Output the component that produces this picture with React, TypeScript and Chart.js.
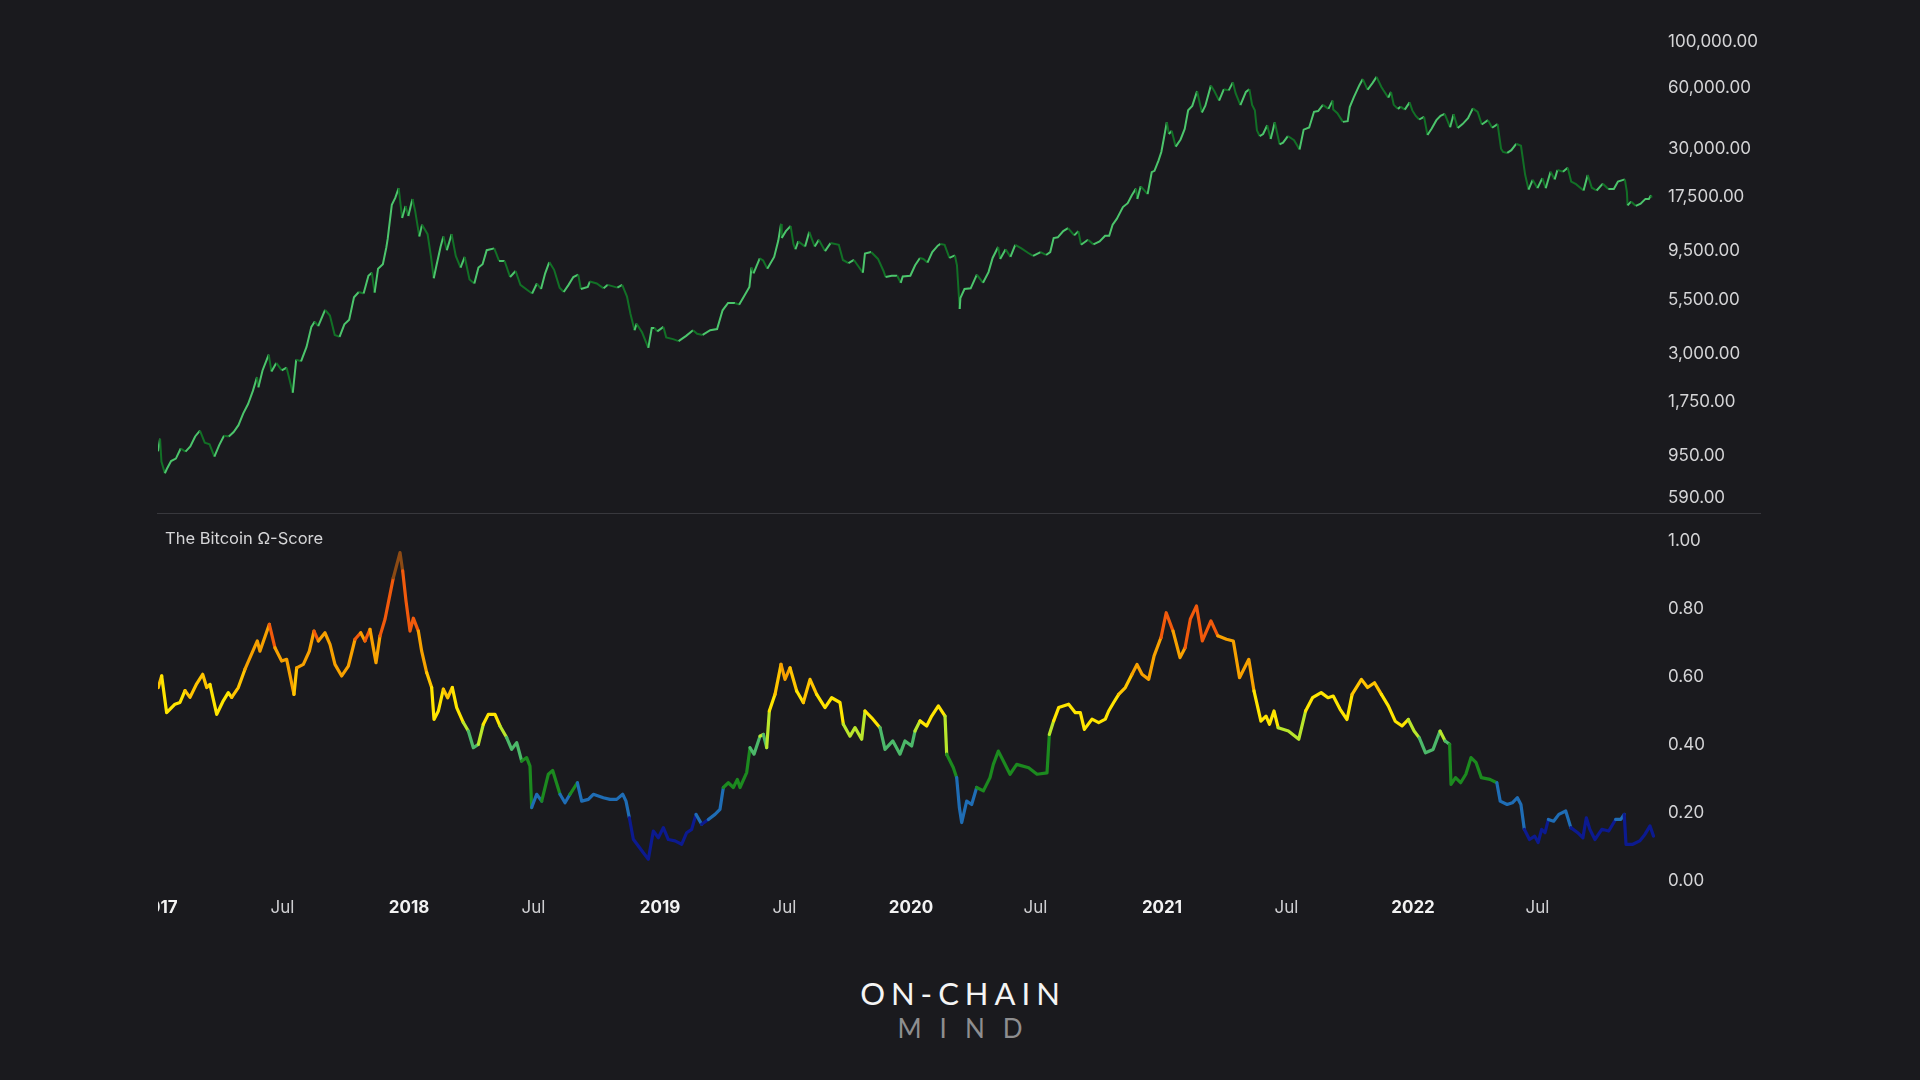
import React, { useEffect, useRef } from 'react';
import { Chart, registerables } from 'chart.js';

Chart.register(...registerables);

// ---------- DATA ----------
// BTC price (approximate closes), [MM-DD, USD]
const price2017: [string, number][] = [
  ['01-01', 998], ['01-04', 1150], ['01-06', 890], ['01-11', 780], ['01-14', 820], ['01-20', 895], ['01-27', 920],
  ['02-03', 1030], ['02-10', 995], ['02-17', 1055], ['02-24', 1180], ['03-03', 1260], ['03-10', 1100], ['03-17', 1080],
  ['03-24', 940], ['03-31', 1070], ['04-07', 1190], ['04-14', 1180], ['04-21', 1240], ['04-28', 1340], ['05-05', 1530],
  ['05-12', 1700], ['05-19', 1970], ['05-25', 2300], ['05-27', 2050], ['06-02', 2480], ['06-11', 2960], ['06-15', 2450],
  ['06-22', 2700], ['06-30', 2480], ['07-07', 2560], ['07-16', 1930], ['07-21', 2800], ['07-28', 2750], ['08-05', 3230],
  ['08-12', 4050], ['08-17', 4300], ['08-22', 4080], ['09-01', 4900], ['09-08', 4600], ['09-15', 3700], ['09-22', 3620],
  ['09-29', 4170], ['10-06', 4390], ['10-13', 5650], ['10-20', 6000], ['10-27', 5900], ['11-03', 7200], ['11-08', 7450],
  ['11-12', 5950], ['11-17', 7800], ['11-24', 8200], ['11-29', 9900], ['12-01', 10900], ['12-07', 16000], ['12-12', 17300],
  ['12-17', 19300], ['12-22', 13800], ['12-27', 15800], ['12-31', 14100],
];
const price2018: [string, number][] = [
  ['01-06', 17100], ['01-10', 14900], ['01-16', 11200], ['01-20', 12800], ['01-28', 11500], ['02-02', 8900], ['02-06', 7000],
  ['02-10', 8100], ['02-16', 10000], ['02-20', 11200], ['02-25', 9600], ['03-04', 11500], ['03-10', 9000], ['03-17', 7900],
  ['03-23', 8900], ['03-30', 6900], ['04-06', 6600], ['04-12', 7900], ['04-18', 8200], ['04-24', 9600], ['05-05', 9800],
  ['05-12', 8500], ['05-20', 8500], ['05-28', 7100], ['06-05', 7600], ['06-12', 6500], ['06-23', 6100], ['06-29', 5900],
  ['07-06', 6600], ['07-12', 6200], ['07-18', 7400], ['07-24', 8400], ['07-31', 7700], ['08-08', 6300], ['08-14', 6000],
  ['08-21', 6500], ['08-28', 7100], ['09-04', 7300], ['09-08', 6200], ['09-18', 6350], ['09-21', 6750], ['10-01', 6600],
  ['10-11', 6250], ['10-17', 6500], ['10-31', 6300], ['11-07', 6500], ['11-14', 5700], ['11-19', 4700], ['11-25', 3900],
  ['11-28', 4200], ['12-06', 3800], ['12-15', 3200], ['12-20', 4000], ['12-24', 4000], ['12-28', 3850],
];
const price2019: [string, number][] = [
  ['01-06', 4050], ['01-10', 3600], ['01-20', 3530], ['01-28', 3450], ['02-08', 3660], ['02-18', 3900], ['02-24', 3750],
  ['03-04', 3700], ['03-15', 3900], ['03-25', 3950], ['04-02', 4880], ['04-10', 5300], ['04-20', 5300], ['04-26', 5200],
  ['05-03', 5700], ['05-11', 6350], ['05-14', 7900], ['05-17', 7400], ['05-26', 8750], ['05-31', 8550], ['06-06', 7800],
  ['06-16', 8900], ['06-22', 10700], ['06-26', 12900], ['06-27', 11000], ['07-03', 11900], ['07-10', 12600], ['07-14', 10300],
  ['07-17', 9700], ['07-21', 10600], ['07-31', 10000], ['08-06', 11800], ['08-14', 10000], ['08-20', 10800], ['08-29', 9500],
  ['09-06', 10400], ['09-18', 10200], ['09-24', 8600], ['10-02', 8300], ['10-10', 8600], ['10-23', 7450], ['10-26', 9250],
  ['11-04', 9400], ['11-14', 8700], ['11-22', 7600], ['11-25', 7100], ['12-04', 7200], ['12-12', 7200], ['12-17', 6650],
  ['12-20', 7150], ['12-31', 7200],
];
const price2020: [string, number][] = [
  ['01-07', 8100], ['01-14', 8800], ['01-19', 8700], ['01-25', 8350], ['02-01', 9400], ['02-09', 10100], ['02-13', 10300],
  ['02-19', 10200], ['02-26', 8800], ['03-05', 9050], ['03-08', 8100], ['03-12', 4950], ['03-13', 5600], ['03-19', 6200],
  ['03-28', 6250], ['04-06', 7300], ['04-15', 6650], ['04-23', 7500], ['04-29', 8800], ['05-07', 9950], ['05-10', 8700],
  ['05-18', 9700], ['05-25', 8900], ['06-01', 10200], ['06-10', 9800], ['06-20', 9300], ['06-27', 9000], ['07-08', 9400],
  ['07-16', 9100], ['07-22', 9400], ['07-27', 11000], ['08-02', 11100], ['08-10', 11900], ['08-17', 12300], ['08-26', 11350],
  ['09-01', 11900], ['09-05', 10200], ['09-15', 10800], ['09-23', 10250], ['10-02', 10600], ['10-10', 11300], ['10-16', 11300],
  ['10-21', 12800], ['10-27', 13650], ['11-05', 15600], ['11-12', 16300], ['11-18', 17800], ['11-24', 19200], ['11-26', 17100],
  ['12-01', 19700], ['12-11', 18050], ['12-17', 23100], ['12-21', 23450], ['12-27', 26400], ['12-31', 29000],
];
const price2021: [string, number][] = [
  ['01-03', 32800], ['01-08', 40600], ['01-11', 35500], ['01-15', 36800], ['01-21', 30800], ['01-28', 33400], ['02-03', 37600],
  ['02-08', 46400], ['02-14', 48700], ['02-21', 57500], ['02-28', 45200], ['03-05', 48800], ['03-13', 61200], ['03-18', 57600],
  ['03-25', 51700], ['04-01', 58800], ['04-08', 58000], ['04-14', 63500], ['04-18', 56200], ['04-25', 49100], ['05-03', 57000],
  ['05-08', 58800], ['05-12', 49200], ['05-16', 46400], ['05-19', 37000], ['05-23', 34700], ['05-28', 35500], ['06-03', 39200],
  ['06-08', 33600], ['06-14', 40500], ['06-21', 31600], ['06-26', 32200], ['07-03', 34700], ['07-12', 33100], ['07-20', 29800],
  ['07-26', 37300], ['08-03', 38200], ['08-10', 45600], ['08-16', 46000], ['08-23', 49300], ['08-31', 47100], ['09-06', 51700],
  ['09-07', 46800], ['09-13', 44900], ['09-21', 40700], ['09-28', 41000], ['10-01', 48100], ['10-07', 53800], ['10-15', 61500],
  ['10-20', 65900], ['10-27', 58400], ['11-03', 63000], ['11-09', 67500], ['11-16', 60300], ['11-19', 58100], ['11-26', 53500],
  ['11-30', 57000], ['12-04', 49300], ['12-10', 47100], ['12-14', 48300], ['12-20', 46700], ['12-27', 50700], ['12-31', 46300],
];
const price2022: [string, number][] = [
  ['01-05', 43500], ['01-10', 41800], ['01-17', 43100], ['01-22', 35100], ['01-28', 37700], ['02-04', 41500], ['02-10', 43600],
  ['02-16', 44500], ['02-24', 38300], ['03-01', 44400], ['03-07', 38000], ['03-14', 39700], ['03-22', 42400], ['03-29', 47400],
  ['04-05', 45500], ['04-11', 39500], ['04-20', 41500], ['04-26', 38100], ['05-04', 39700], ['05-09', 30100], ['05-12', 29000],
  ['05-18', 28700], ['05-24', 29600], ['05-31', 31800], ['06-07', 31100], ['06-13', 22500], ['06-18', 19000], ['06-24', 21200],
  ['07-01', 19300], ['07-08', 21600], ['07-13', 19300], ['07-20', 23200], ['07-26', 21300], ['07-30', 23700], ['08-07', 23200],
  ['08-14', 24300], ['08-19', 20800], ['08-26', 20200], ['09-06', 18800], ['09-12', 22400], ['09-18', 19400], ['09-25', 18800],
  ['10-04', 20300], ['10-12', 19100], ['10-20', 19100], ['10-26', 20800], ['11-05', 21300], ['11-08', 18500], ['11-09', 15900],
  ['11-14', 16600], ['11-21', 15800], ['11-28', 16200], ['12-05', 17100], ['12-10', 17100], ['12-13', 17800], ['12-14', 17350],
];

// Bitcoin Ω-Score, [decimal year, score]
const score2017: [number, number][] = [
  [2017.001, 0.569], [2017.0146, 0.603], [2017.0345, 0.495], [2017.0677, 0.52], [2017.0876, 0.525], [2017.1076, 0.56],
  [2017.1275, 0.54], [2017.154, 0.58], [2017.178, 0.608], [2017.194, 0.569], [2017.207, 0.578], [2017.234, 0.49],
  [2017.26, 0.53], [2017.28, 0.554], [2017.2935, 0.54], [2017.32, 0.569], [2017.3466, 0.623], [2017.3665, 0.657],
  [2017.3957, 0.706], [2017.406, 0.676], [2017.4436, 0.755], [2017.466, 0.686], [2017.4927, 0.647], [2017.5126, 0.652],
  [2017.5418, 0.549], [2017.5525, 0.627], [2017.579, 0.637], [2017.603, 0.676], [2017.6215, 0.735], [2017.6388, 0.706],
  [2017.6653, 0.73], [2017.6853, 0.696], [2017.705, 0.637], [2017.7318, 0.603], [2017.7583, 0.632], [2017.785, 0.711],
  [2017.8074, 0.73], [2017.8247, 0.706], [2017.8446, 0.74], [2017.8685, 0.642], [2017.8845, 0.721], [2017.9044, 0.77],
  [2017.9243, 0.843], [2017.9376, 0.892], [2017.9641, 0.966], [2017.9748, 0.912], [2017.988, 0.824],
];
const score2018: [number, number][] = [
  [2018.004, 0.735], [2018.0172, 0.773], [2018.0372, 0.735], [2018.0505, 0.676], [2018.0704, 0.613], [2018.0903, 0.569],
  [2018.0996, 0.475], [2018.1169, 0.5], [2018.1368, 0.564], [2018.154, 0.539], [2018.1726, 0.569], [2018.19, 0.51],
  [2018.2165, 0.466], [2018.2364, 0.441], [2018.2563, 0.392], [2018.2762, 0.402], [2018.2961, 0.461], [2018.316, 0.49],
  [2018.3426, 0.49], [2018.3625, 0.456], [2018.389, 0.422], [2018.409, 0.387], [2018.429, 0.407], [2018.4489, 0.353],
  [2018.4688, 0.363], [2018.482, 0.338], [2018.4887, 0.216], [2018.5086, 0.255], [2018.5286, 0.235], [2018.5551, 0.314],
  [2018.5724, 0.325], [2018.6016, 0.255], [2018.6215, 0.23], [2018.6414, 0.255], [2018.6707, 0.289], [2018.6879, 0.235],
  [2018.7145, 0.24], [2018.7344, 0.255], [2018.7742, 0.245], [2018.8008, 0.24], [2018.8274, 0.24], [2018.8513, 0.255],
  [2018.8645, 0.235], [2018.8778, 0.186], [2018.8937, 0.123], [2018.9137, 0.103], [2018.9336, 0.083], [2018.9535, 0.064],
  [2018.9734, 0.147], [2018.9933, 0.127],
];
const score2019: [number, number][] = [
  [2019.0133, 0.157], [2019.0332, 0.122], [2019.0598, 0.118], [2019.0863, 0.108], [2019.1063, 0.142], [2019.1262, 0.152],
  [2019.1434, 0.196], [2019.166, 0.167], [2019.1926, 0.181], [2019.2191, 0.196], [2019.239, 0.211], [2019.2523, 0.275],
  [2019.2722, 0.289], [2019.2922, 0.275], [2019.3081, 0.299], [2019.3187, 0.275], [2019.3453, 0.319], [2019.3586, 0.392],
  [2019.3745, 0.373], [2019.3984, 0.426], [2019.4117, 0.431], [2019.425, 0.392], [2019.4356, 0.5], [2019.4582, 0.549],
  [2019.4821, 0.637], [2019.498, 0.593], [2019.5179, 0.627], [2019.5445, 0.559], [2019.571, 0.525], [2019.5976, 0.593],
  [2019.6242, 0.549], [2019.6574, 0.51], [2019.6839, 0.539], [2019.7171, 0.525], [2019.7304, 0.461], [2019.757, 0.426],
  [2019.7769, 0.451], [2019.8035, 0.417], [2019.8167, 0.5], [2019.8433, 0.48], [2019.8765, 0.451], [2019.8964, 0.387],
  [2019.9276, 0.412], [2019.9562, 0.373], [2019.9761, 0.412],
];
const score2020: [number, number][] = [
  [2020.0027, 0.397], [2020.0159, 0.441], [2020.0359, 0.471], [2020.0624, 0.456], [2020.0824, 0.485], [2020.1089, 0.515],
  [2020.1355, 0.485], [2020.1421, 0.373], [2020.1687, 0.333], [2020.1819, 0.304], [2020.1926, 0.216], [2020.2019, 0.172],
  [2020.2218, 0.235], [2020.2417, 0.225], [2020.2616, 0.275], [2020.2882, 0.265], [2020.3147, 0.304], [2020.328, 0.343],
  [2020.3479, 0.382], [2020.3679, 0.353], [2020.3944, 0.314], [2020.421, 0.343], [2020.4688, 0.333], [2020.502, 0.314],
  [2020.5418, 0.318], [2020.5511, 0.431], [2020.5684, 0.471], [2020.5883, 0.51], [2020.6281, 0.52], [2020.6547, 0.495],
  [2020.6746, 0.495], [2020.6906, 0.446], [2020.7211, 0.476], [2020.7477, 0.466], [2020.7742, 0.476], [2020.7875, 0.5],
  [2020.8074, 0.525], [2020.8274, 0.549], [2020.8539, 0.569], [2020.8805, 0.608], [2020.9004, 0.637], [2020.9203, 0.608],
  [2020.9469, 0.593], [2020.9685, 0.662], [2020.996, 0.716],
];
const score2021: [number, number][] = [
  [2021.0167, 0.789], [2021.044, 0.735], [2021.0717, 0.657], [2021.092, 0.686], [2021.1127, 0.77], [2021.1374, 0.809],
  [2021.1606, 0.706], [2021.1949, 0.765], [2021.2223, 0.721], [2021.2566, 0.711], [2021.2841, 0.706], [2021.3088, 0.598],
  [2021.3458, 0.652], [2021.3664, 0.559], [2021.394, 0.47], [2021.4144, 0.485], [2021.4283, 0.461], [2021.4462, 0.5],
  [2021.4627, 0.451], [2021.5036, 0.441], [2021.545, 0.417], [2021.5721, 0.5], [2021.5996, 0.539], [2021.6339, 0.554],
  [2021.6614, 0.539], [2021.6821, 0.544], [2021.7096, 0.505], [2021.737, 0.475], [2021.7574, 0.549], [2021.7944, 0.593],
  [2021.8191, 0.569], [2021.8466, 0.583], [2021.8741, 0.549], [2021.9016, 0.515], [2021.929, 0.47], [2021.9565, 0.456],
  [2021.9812, 0.475],
];
const score2022: [number, number][] = [
  [2022.0044, 0.441], [2022.0251, 0.421], [2022.0498, 0.377], [2022.08, 0.387], [2022.1076, 0.441], [2022.128, 0.412],
  [2022.1458, 0.402], [2022.1514, 0.284], [2022.1693, 0.304], [2022.1897, 0.289], [2022.2104, 0.314], [2022.2311, 0.363],
  [2022.2514, 0.348], [2022.2721, 0.304], [2022.3064, 0.299], [2022.3339, 0.289], [2022.3474, 0.235], [2022.3749, 0.225],
  [2022.3956, 0.23], [2022.4159, 0.245], [2022.4299, 0.225], [2022.4434, 0.152], [2022.4641, 0.122], [2022.4849, 0.132],
  [2022.4984, 0.113], [2022.5124, 0.152], [2022.5259, 0.142], [2022.5394, 0.181], [2022.5602, 0.176], [2022.5809, 0.196],
  [2022.6084, 0.206], [2022.6287, 0.157], [2022.6562, 0.142], [2022.6769, 0.127], [2022.6905, 0.186], [2022.7044, 0.152],
  [2022.7247, 0.122], [2022.7522, 0.152], [2022.7797, 0.147], [2022.8072, 0.181], [2022.8279, 0.181], [2022.8414, 0.196],
  [2022.8486, 0.108], [2022.8757, 0.108], [2022.9032, 0.118], [2022.9239, 0.137], [2022.9442, 0.162], [2022.9582, 0.132],
];

// Axis ticks
const xTickValues = [2017, 2017.496, 2018, 2018.496, 2019, 2019.496, 2020, 2020.496, 2021, 2021.496, 2022, 2022.496];
const xTickLabels = ['2017', 'Jul', '2018', 'Jul', '2019', 'Jul', '2020', 'Jul', '2021', 'Jul', '2022', 'Jul'];
const priceTickValues = [590, 950, 1750, 3000, 5500, 9500, 17500, 30000, 60000, 100000];
const scoreTickValues = [0, 0.2, 0.4, 0.6, 0.8, 1.0];
const scoreTitle = 'The Bitcoin Ω-Score';

// ---------- STYLE ----------
const BG = '#1a1a1e';
const FONT = 'Inter, "Noto Sans", sans-serif';
const UP = '#4cc56c';
const DOWN = '#127026';
const X_MIN = 2017;
const X_MAX = 2022.98;
const AXIS_W = 102;

function toYear(year: number, md: string): number {
  const [m, d] = md.split('-').map(Number);
  const start = Date.UTC(year, 0, 1);
  const end = Date.UTC(year + 1, 0, 1);
  return year + (Date.UTC(year, m - 1, d) - start) / (end - start);
}

function scoreColor(v: number): string {
  if (v >= 0.9) return '#8c4a14';
  if (v >= 0.72) return '#f25a0c';
  if (v >= 0.6) return '#f7a100';
  if (v >= 0.55) return '#ffc400';
  if (v >= 0.46) return '#ffe500';
  if (v >= 0.42) return '#b9e62c';
  if (v >= 0.375) return '#4cb86a';
  if (v >= 0.27) return '#1c8a1f';
  if (v >= 0.175) return '#1f6db5';
  return '#0c1a8f';
}

const fmtPrice = (v: number) =>
  Number(v).toLocaleString('en-US', { minimumFractionDigits: 2, maximumFractionDigits: 2 });

export default function App() {
  const topRef = useRef<HTMLCanvasElement>(null);
  const botRef = useRef<HTMLCanvasElement>(null);

  useEffect(() => {
    const years: [number, [string, number][]][] = [
      [2017, price2017], [2018, price2018], [2019, price2019], [2020, price2020], [2021, price2021], [2022, price2022],
    ];
    const pricePts = years.flatMap(([y, arr]) => arr.map(([md, p]) => ({ x: toYear(y, md), y: p })));
    const scorePts = [...score2017, ...score2018, ...score2019, ...score2020, ...score2021, ...score2022].map(
      ([t, v]) => ({ x: t, y: v })
    );

    const yAxisBase = {
      position: 'right' as const,
      grid: { display: false, drawTicks: false },
      border: { display: false },
      afterFit: (s: any) => {
        s.width = AXIS_W;
        s.paddingTop = 0;
        s.paddingBottom = 0;
      },
    };

    const top = new Chart(topRef.current!, {
      type: 'line',
      data: {
        datasets: [
          {
            data: pricePts,
            borderColor: UP,
            borderWidth: 2,
            pointRadius: 0,
            tension: 0,
            segment: {
              borderColor: (ctx: any) => (ctx.p1.parsed.y >= ctx.p0.parsed.y ? UP : DOWN),
            },
          },
        ],
      },
      options: {
        animation: false,
        responsive: false,
        events: [],
        layout: { padding: 0 },
        plugins: { legend: { display: false }, tooltip: { enabled: false } },
        scales: {
          x: { type: 'linear', min: X_MIN, max: X_MAX, display: false },
          y: {
            ...yAxisBase,
            type: 'logarithmic',
            min: 498.5,
            max: 160450,
            afterBuildTicks: (s: any) => {
              s.ticks = priceTickValues.map((v) => ({ value: v }));
            },
            ticks: {
              padding: 9,
              color: '#d4d4d6',
              font: { family: FONT, size: 17 },
              callback: (v: any) => fmtPrice(v),
            },
          },
        },
      },
    } as any);

    const bot = new Chart(botRef.current!, {
      type: 'line',
      data: {
        datasets: [
          {
            data: scorePts,
            borderColor: '#ffe500',
            borderWidth: 3.2,
            pointRadius: 0,
            tension: 0,
            borderCapStyle: 'round',
            borderJoinStyle: 'round',
            segment: {
              borderColor: (ctx: any) => scoreColor((ctx.p0.parsed.y + ctx.p1.parsed.y) / 2),
            },
          },
        ],
      },
      options: {
        animation: false,
        responsive: false,
        events: [],
        layout: { padding: 0 },
        plugins: { legend: { display: false }, tooltip: { enabled: false } },
        scales: {
          x: {
            type: 'linear',
            position: 'bottom',
            min: X_MIN,
            max: X_MAX,
            grid: { display: false, drawTicks: false },
            border: { display: false },
            afterBuildTicks: (s: any) => {
              s.ticks = xTickValues.map((v) => ({ value: v }));
            },
            afterFit: (s: any) => {
              s.height = 53;
              s.paddingLeft = 0;
              s.paddingRight = 0;
            },
            ticks: {
              autoSkip: false,
              maxRotation: 0,
              minRotation: 0,
              padding: 17,
              color: (ctx: any) => (xTickLabels[ctx.index] === 'Jul' ? '#cfcfd2' : '#f2f2f2'),
              font: (ctx: any) => ({
                family: FONT,
                size: 17,
                weight: xTickLabels[ctx.index] === 'Jul' ? '400' : '700',
              }),
              callback: (_v: any, i: number) => xTickLabels[i],
            },
          },
          y: {
            ...yAxisBase,
            type: 'linear',
            min: 0,
            max: 1.0794,
            afterBuildTicks: (s: any) => {
              s.ticks = scoreTickValues.map((v) => ({ value: v }));
            },
            ticks: {
              padding: 9,
              color: '#d4d4d6',
              font: { family: FONT, size: 17 },
              callback: (v: any) => Number(v).toFixed(2),
            },
          },
        },
      },
    } as any);

    return () => {
      top.destroy();
      bot.destroy();
    };
  }, []);

  return (
    <div
      style={{
        position: 'fixed',
        left: 0,
        top: 0,
        width: 1920,
        height: 1080,
        background: BG,
        overflow: 'hidden',
        fontFamily: FONT,
      }}
    >
      <div style={{ position: 'absolute', left: 158, top: 0, width: 1603, height: 513 }}>
        <canvas ref={topRef} width={1603} height={513} style={{ display: 'block' }} />
      </div>
      <div
        style={{
          position: 'absolute',
          left: 157,
          top: 513,
          width: 1604,
          height: 1,
          background: '#38383d',
        }}
      />
      <div style={{ position: 'absolute', left: 158, top: 514, width: 1603, height: 420 }}>
        <canvas ref={botRef} width={1603} height={420} style={{ display: 'block' }} />
      </div>
      <div
        style={{
          position: 'absolute',
          left: 165,
          top: 528,
          fontSize: 16.5,
          color: '#d6d6d8',
          whiteSpace: 'nowrap',
        }}
      >
        {scoreTitle}
      </div>
      <div
        style={{
          position: 'absolute',
          left: 0,
          width: 1920,
          top: 978,
          textAlign: 'center',
          fontFamily: 'Lato, "Noto Sans", sans-serif',
          fontSize: 31,
          lineHeight: '31px',
          letterSpacing: 6,
          paddingLeft: 3,
          color: '#f4f4f4',
        }}
      >
        ON-CHAIN
      </div>
      <div
        style={{
          position: 'absolute',
          left: 0,
          width: 1920,
          top: 1015,
          textAlign: 'center',
          fontFamily: 'Lato, "Noto Sans", sans-serif',
          fontSize: 26,
          lineHeight: '26px',
          letterSpacing: 18,
          paddingLeft: 9,
          color: '#8e8e90',
        }}
      >
        MIND
      </div>
    </div>
  );
}
